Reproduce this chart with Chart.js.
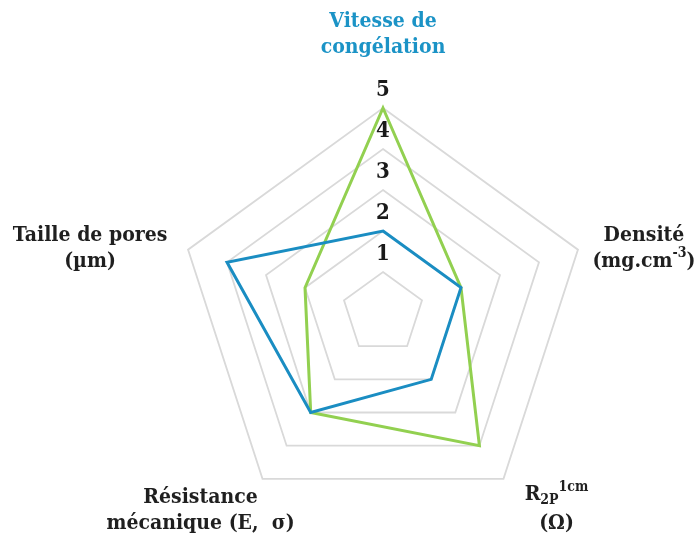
<!DOCTYPE html>
<html>
<head>
<meta charset="utf-8">
<script src="https://cdn.jsdelivr.net/npm/chart.js@4"></script>
<style>
  html, body { margin: 0; padding: 0; background: #fff; }
  #wrap { width: 700px; height: 534px; }
</style>
</head>
<body>
<div id="wrap"><canvas id="myChart" width="700" height="534"></canvas></div>
<script>
// axes, clockwise from top
var axes = ['Vitesse de congélation', 'Densité', 'R2P 1cm', 'Résistance mécanique', 'Taille de pores'];
var serieBleue = [2, 2, 2, 3, 4];
var serieVerte = [5, 2, 4, 3, 2];
var graduations = [1, 2, 3, 4, 5];

// label text split in runs: [texte, 'sup' | 'sub' | undefined]
var etiquettes = [
   [[['Vitesse de']], [['congélation']]],
   [[['Densité']], [['(mg.cm'], ['-3', 'sup'], [')']]],
   [[['R'], ['2P', 'sub'], ['1cm', 'sup']], [['(Ω)']]],
   [[['Résistance']], [['mécanique (E,  σ)']]],
   [[['Taille de pores']], [['(µm)']]]
];
var couleursEtiquettes = ['#1b93c6', '#1f1f1f', '#1f1f1f', '#1f1f1f', '#1f1f1f'];
// where each label sits, relative to the outer vertex of its axis
var decalages = [[0, -86, 26], [66, -14, 26], [53, 16, 29], [-62, 19, 26], [-98, -14, 26]];

var police = 'DejaVu Serif Condensed, DejaVu Serif, serif';

function drawRuns(ctx, runs, x, y, size) {
   var total = 0;
   runs.forEach(function (r) {
      var s = r[1] ? Math.round(size * 0.66) : size;
      ctx.font = 'bold ' + s + 'px ' + police;
      total += ctx.measureText(r[0]).width;
   });
   var cx = x - total / 2;
   runs.forEach(function (r) {
      var s = r[1] ? Math.round(size * 0.66) : size;
      var dy = r[1] === 'sup' ? -size * 0.38 : (r[1] === 'sub' ? size * 0.28 : 0);
      ctx.font = 'bold ' + s + 'px ' + police;
      ctx.fillText(r[0], cx, y + dy);
      cx += ctx.measureText(r[0]).width;
   });
}

var etiquettesPlugin = {
   id: 'etiquettes',
   afterDraw: function (chart) {
      var scale = chart.scales.r;
      var ctx = chart.ctx;
      ctx.save();
      ctx.textBaseline = 'middle';
      ctx.textAlign = 'left';
      // tick labels, a little above each ring on the top axis
      ctx.fillStyle = '#1a1a1a';
      graduations.forEach(function (v) {
         var p = scale.getPointPositionForValue(0, v);
         drawRuns(ctx, [[String(v)]], p.x, p.y - 18, 22);
      });
      // axis labels
      var rMax = scale.getDistanceFromCenterForValue(scale.max);
      etiquettes.forEach(function (lignes, i) {
         var p = scale.getPointPosition(i, rMax);
         var d = decalages[i];
         ctx.fillStyle = couleursEtiquettes[i];
         lignes.forEach(function (runs, k) {
            drawRuns(ctx, runs, p.x + d[0], p.y + d[1] + k * d[2], 21);
         });
      });
      ctx.restore();
   }
};

var canva = document.getElementById('myChart');
var myChart = new Chart(canva, {
   type: 'radar',
   data: {
      labels: axes,
      datasets: [
         {
            label: 'Bleu',
            data: serieBleue,
            borderColor: '#1a8dc2',
            backgroundColor: 'transparent',
            borderWidth: 3,
            pointRadius: 0
         },
         {
            label: 'Vert',
            data: serieVerte,
            borderColor: '#92d050',
            backgroundColor: 'transparent',
            borderWidth: 3,
            pointRadius: 0
         }
      ]
   },
   options: {
      responsive: false,
      animation: false,
      layout: { padding: { top: 108, bottom: 16, left: 100, right: 34 } },
      plugins: { legend: { display: false }, tooltip: { enabled: false } },
      elements: { line: { tension: 0 } },
      scales: {
         r: {
            min: 0,
            max: 5,
            ticks: { display: false, stepSize: 1 },
            grid: { color: '#d9d9d9', lineWidth: 1.8 },
            angleLines: { display: false },
            pointLabels: { display: false }
         }
      }
   },
   plugins: [etiquettesPlugin]
});
</script>
</body>
</html>
